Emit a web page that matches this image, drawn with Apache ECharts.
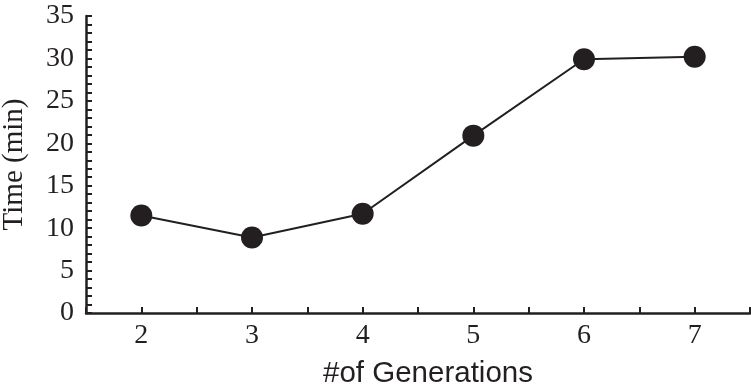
<!DOCTYPE html>
<html>
<head>
<meta charset="utf-8">
<script src="https://cdn.jsdelivr.net/npm/echarts@6/dist/echarts.min.js"></script>
<style>
  html, body { margin: 0; padding: 0; background: #fff; }
  #chart { width: 751px; height: 389px; }
</style>
</head>
<body>
<div id="chart"></div>
<script>
const generations = [2, 3, 4, 5, 6, 7];
const timeMin = [11.5, 8.9, 11.7, 20.9, 29.9, 30.2];
const xAxisTitle = '#of Generations';
const yAxisTitle = 'Time (min)';

const ink = '#231f20';
const chart = echarts.init(document.getElementById('chart'));
chart.setOption({
  animation: false,
  backgroundColor: '#fff',
  grid: { left: 86, right: 1, top: 16, bottom: 76, containLabel: false, outerBoundsMode: 'none' },
  xAxis: {
    type: 'value',
    min: 1.5, max: 7.5, interval: 0.5,
    name: xAxisTitle,
    nameLocation: 'middle',
    nameGap: 46,
    nameTextStyle: { fontFamily: 'Liberation Sans', fontSize: 29.5, color: ink, padding: [0, 0, 0, 20] },
    axisLine: { show: true, lineStyle: { color: ink, width: 2.5 } },
    axisTick: { show: true, inside: true, length: 6, lineStyle: { color: ink, width: 2 } },
    axisLabel: {
      fontFamily: 'Liberation Serif', fontSize: 28, color: ink, margin: 9,
      formatter: v => (Math.abs(v - Math.round(v)) < 1e-9 ? String(Math.round(v)) : '')
    },
    splitLine: { show: false }
  },
  yAxis: {
    type: 'value',
    min: 0, max: 35, interval: 1,
    name: yAxisTitle,
    nameLocation: 'middle',
    nameGap: 57,
    nameTextStyle: { fontFamily: 'Liberation Serif', fontSize: 29, color: ink },
    axisLine: { show: true, lineStyle: { color: ink, width: 2.5 } },
    axisTick: { show: true, inside: true, length: 6, lineStyle: { color: ink, width: 2 } },
    axisLabel: {
      fontFamily: 'Liberation Serif', fontSize: 28, color: ink, margin: 12,
      formatter: v => (v % 5 === 0 ? String(v) : '')
    },
    splitLine: { show: false }
  },
  series: [{
    type: 'line',
    data: generations.map((g, i) => [g, timeMin[i]]),
    symbol: 'circle',
    symbolSize: 22,
    itemStyle: { color: ink },
    lineStyle: { color: ink, width: 2 }
  }]
});
</script>
</body>
</html>
